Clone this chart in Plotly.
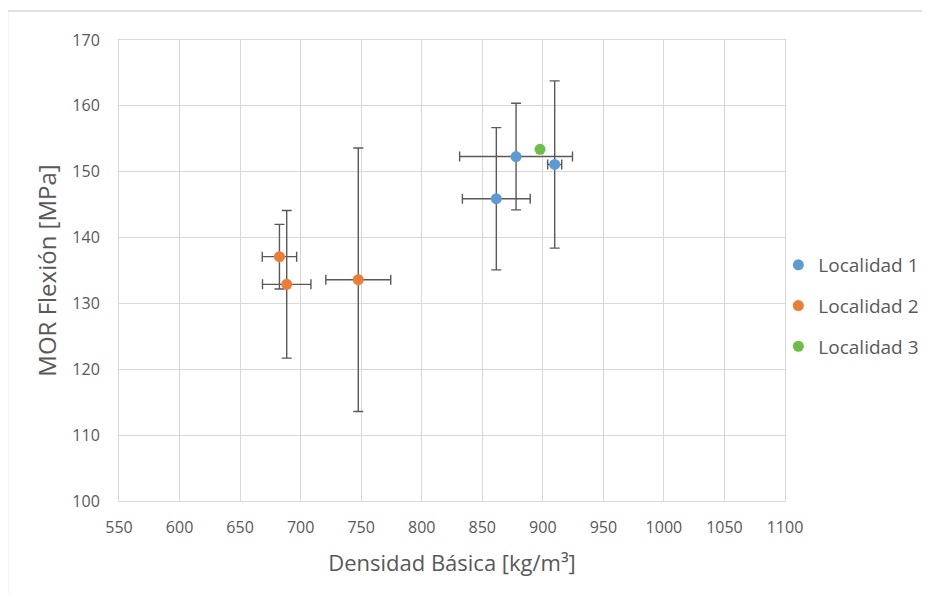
import plotly.graph_objects as go

# Data
loc1_x = [861.6, 877.9, 909.8]
loc1_y = [145.9, 152.3, 151.1]
loc1_ex = [28.0, 46.6, 5.8]
loc1_ey = [10.8, 8.1, 12.7]

loc2_x = [682.5, 688.5, 747.6]
loc2_y = [137.1, 132.9, 133.6]
loc2_ex = [14.2, 20.0, 26.8]
loc2_ey = [4.9, 11.2, 20.0]

loc3_x = [897.7]
loc3_y = [153.4]

names = ["Localidad 1", "Localidad 2", "Localidad 3"]
colors = ["#5B9BD5", "#ED7D31", "#6DBE45"]

FONT = "Open Sans, Liberation Sans, sans-serif"
ERR = dict(type="data", color="#595959", thickness=1.4, width=5)

fig = go.Figure()
fig.add_trace(go.Scatter(
    x=loc1_x, y=loc1_y, mode="markers", name=names[0], legendgroup="g1",
    marker=dict(color=colors[0], size=11),
    error_x=dict(array=loc1_ex, **ERR), error_y=dict(array=loc1_ey, **ERR),
))
fig.add_trace(go.Scatter(
    x=loc2_x, y=loc2_y, mode="markers", name=names[1], legendgroup="g2",
    marker=dict(color=colors[1], size=11),
    error_x=dict(array=loc2_ex, **ERR), error_y=dict(array=loc2_ey, **ERR),
))
fig.add_trace(go.Scatter(
    x=loc3_x, y=loc3_y, mode="markers", name=names[2], legendgroup="g3",
    marker=dict(color=colors[2], size=11),
))

axis_common = dict(
    showgrid=True, gridcolor="#D9D9D9", gridwidth=1,
    showline=True, linecolor="#D9D9D9", linewidth=1, mirror=True,
    zeroline=False, ticks="",
    tickfont=dict(family=FONT, size=16, color="#595959"),
)

fig.update_layout(
    width=930, height=594,
    paper_bgcolor="white", plot_bgcolor="white",
    margin=dict(l=111, r=153, t=32, b=101),
    xaxis=dict(range=[550, 1100], dtick=50, tick0=550, ticklabelstandoff=12,
               title=dict(text="Densidad Básica [kg/m³]", standoff=18,
                          font=dict(family=FONT, size=22, color="#595959")),
               **axis_common),
    yaxis=dict(range=[100, 170], dtick=10, ticklabelstandoff=15,
               title=dict(text="MOR Flexión [MPa]", standoff=8,
                          font=dict(family=FONT, size=24, color="#595959")),
               **axis_common),
    legend=dict(x=0.99, y=0.423, xanchor="left", yanchor="middle",
                font=dict(family=FONT, size=19, color="#595959"),
                tracegroupgap=13, itemwidth=30, bgcolor="rgba(0,0,0,0)"),
    showlegend=True,
    shapes=[dict(type="rect", xref="paper", yref="paper",
                 x0=-0.1674, x1=1.4, y0=-0.4, y1=1.0629,
                 line=dict(color="#D9D9D9", width=1.5), layer="below")],
)

fig.write_html("out.html")
